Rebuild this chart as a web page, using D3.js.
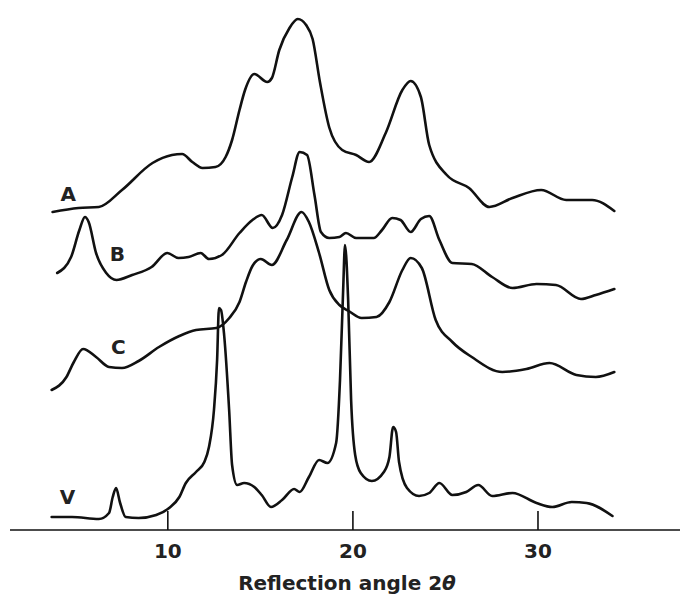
<!DOCTYPE html>
<html>
  <head>
    <meta charset="utf-8">
    <script src="https://d3js.org/d3.v7.min.js"></script>
    <style>
      body {
          margin: 0;
          background: #fff;
          font-family: "DejaVu Sans", "Liberation Sans", Arial, sans-serif;
          color: #222;
      }
      .trace {
        fill: none;
        stroke: #111;
        stroke-width: 2.6px;
        stroke-linejoin: round;
        stroke-linecap: round;
      }
      .axis path, .axis line {
        stroke: #111;
        stroke-width: 1.6px;
      }
      .axis text {
        font-family: "DejaVu Sans", "Liberation Sans", Arial, sans-serif;
        font-size: 20px;
        font-weight: bold;
        fill: #222;
      }
      .label {
          font-size: 20px;
          font-weight: bold;
          fill: #222;
          text-anchor: middle;
      }
    </style>
  </head>
  <body>
    <svg width="680" height="599"></svg>
    <script>

    // 2theta (deg), intensity (a.u., curves stacked with offsets as in the figure)
    var seriesA = [
      [3.8,63.6],[5.2,64.4],[6.3,64.6],[7.55,68],[9.2,73.4],[10.25,75],[10.8,75.2],[11.35,73.6],
      [11.9,72.4],[12.6,72.6],[13.15,74.6],[13.5,78],[13.9,84],[14.2,88],[14.7,91.2],[15.4,89.6],
      [15.65,90.4],[16.05,96],[16.6,100.4],[17.05,102.2],[17.5,101],[17.85,98.2],[18.25,89.5],
      [18.75,80.5],[19.45,76],[20.2,75],[20.9,73.6],[21.8,79.4],[22.7,88],[23.15,89.8],[23.7,86.6],
      [24.15,77],[25.1,71],[26.3,68.4],[27.4,64.6],[28.65,66.4],[30.2,68],[31.55,66],[32.95,66],
      [34.15,63.8]
    ];
    var seriesB = [
      [4.05,51.4],[4.8,54.6],[5.25,60],[5.55,62.6],[5.75,61.6],[6.15,55.4],[6.7,51.4],[7.25,50],
      [8.1,51],[9.15,52.6],[10,55.4],[10.6,54.4],[11.15,54.6],[11.8,55.4],[12.25,54.2],[12.95,55],
      [13.9,59.4],[14.6,62],[15.1,63],[15.7,60.4],[16.2,63],[16.75,70.6],[17.15,75.6],[17.55,75],
      [17.95,67],[18.3,59.6],[18.75,58.4],[19.3,58.6],[19.65,59.4],[20.2,58.4],[21.15,58.4],[21.6,60],
      [22.15,62.4],[22.6,62],[23.15,59.6],[23.7,62.2],[24.15,62.8],[24.7,58],[25.4,53.4],[26.45,53.2],
      [27.55,50.6],[28.65,48.4],[29.95,49.2],[31,49],[32.35,46.2],[33.15,47],[34.15,48.2]
    ];
    var seriesC = [
      [3.75,28],[4.55,30.6],[4.95,33.6],[5.45,36.2],[6.15,34.6],[6.85,32.6],[7.55,32.4],[8.45,33.8],
      [9.55,36.6],[10.65,38.8],[11.55,40],[12.65,40.4],[13.35,42.4],[13.9,45.6],[14.25,49.6],
      [14.6,52.8],[15.05,54.2],[15.65,53],[16.45,58],[17.25,63.6],[17.65,61.6],[18.2,55.4],[18.75,48],
      [19.3,45],[19.8,43.8],[20.5,42.4],[21.3,42.6],[22,45.6],[22.7,52],[23.15,54.4],[23.75,52.4],
      [24.5,42],[25.4,37.6],[26.45,34.6],[28.1,31.6],[29.4,32.2],[30.65,33.4],[32.1,31],[33.15,30.6],
      [34.15,31.6]
    ];
    var seriesV = [
      [3.75,2.6],[4.85,2.6],[6.3,2.2],[6.85,3.4],[7.05,6.6],[7.23,8.4],[7.45,5.4],[7.75,2.6],
      [8.45,2.4],[9.4,3],[10.1,4.4],[10.65,6.6],[11,9.4],[11.55,11.6],[12,13.6],[12.25,16.6],
      [12.52,24],[12.69,34],[12.79,44.4],[12.9,44],[13.07,39],[13.34,24],[13.5,13],[13.77,9],
      [14.15,9.4],[14.7,8.6],[15.1,7],[15.6,4.6],[16.2,6],[16.85,8.2],[17.15,7.6],[17.65,10.6],
      [18.2,14],[18.65,13.4],[19.12,17.4],[19.33,30],[19.5,48],[19.6,57],[19.77,46],[19.93,26],
      [20.15,15],[20.45,11.4],[21.05,9.8],[21.7,11.6],[22,14.6],[22.2,20.6],[22.36,19.6],[22.52,13.6],
      [22.95,8.4],[23.6,6.8],[24.15,7.4],[24.7,9.4],[25.4,7],[26.15,7.6],[26.8,9],[27.55,6.8],
      [28.65,7.4],[29.95,5.4],[30.8,4.6],[31.85,5.6],[32.65,5.4],[34.05,2.8]
    ];
    var seriesNames = ["A", "B", "C", "V"];
    var labelAt = [[4.65,67.3],[7.3,55.3],[7.35,36.6],[4.6,6.6]];
    var xTicks = [10, 20, 30];

    var svg = d3.select("svg");

    var x = d3.scaleLinear().domain([1.5, 37.7]).range([10, 680]),
        y = d3.scaleLinear().domain([0, 106]).range([530, 0]);

    var line = d3.line()
                 .curve(d3.curveMonotoneX)
                 .x(function(d) { return x(d[0]); })
                 .y(function(d) { return y(d[1]); });

    var traces = [seriesA, seriesB, seriesC, seriesV];

    svg.selectAll(".trace")
       .data(traces)
       .enter().append("path")
       .attr("class", "trace")
       .attr("d", line);

    svg.selectAll(".label")
       .data(seriesNames)
       .enter().append("text")
       .attr("class", "label")
       .attr("x", function(d, i) { return x(labelAt[i][0]); })
       .attr("y", function(d, i) { return y(labelAt[i][1]); })
       .attr("dy", "0.36em")
       .text(function(d) { return d; });

    var ax = svg.append("g")
        .attr("class", "axis")
        .attr("transform", "translate(0," + y(0) + ")")
        .call(d3.axisBottom(x).tickValues(xTicks).tickSizeInner(-19).tickSizeOuter(0).tickPadding(14));
    ax.select(".domain").attr("d", "M" + x.range()[0] + ",0H" + x.range()[1]);

    var title = svg.append("text")
        .attr("x", 347)
        .attr("y", 590)
        .attr("text-anchor", "middle")
        .style("font-size", "20px")
        .style("font-weight", "bold")
        .style("fill", "#222");
    title.append("tspan").text("Reflection angle 2");
    title.append("tspan").style("font-style", "italic").text("θ");

    </script>
  </body>
</html>
